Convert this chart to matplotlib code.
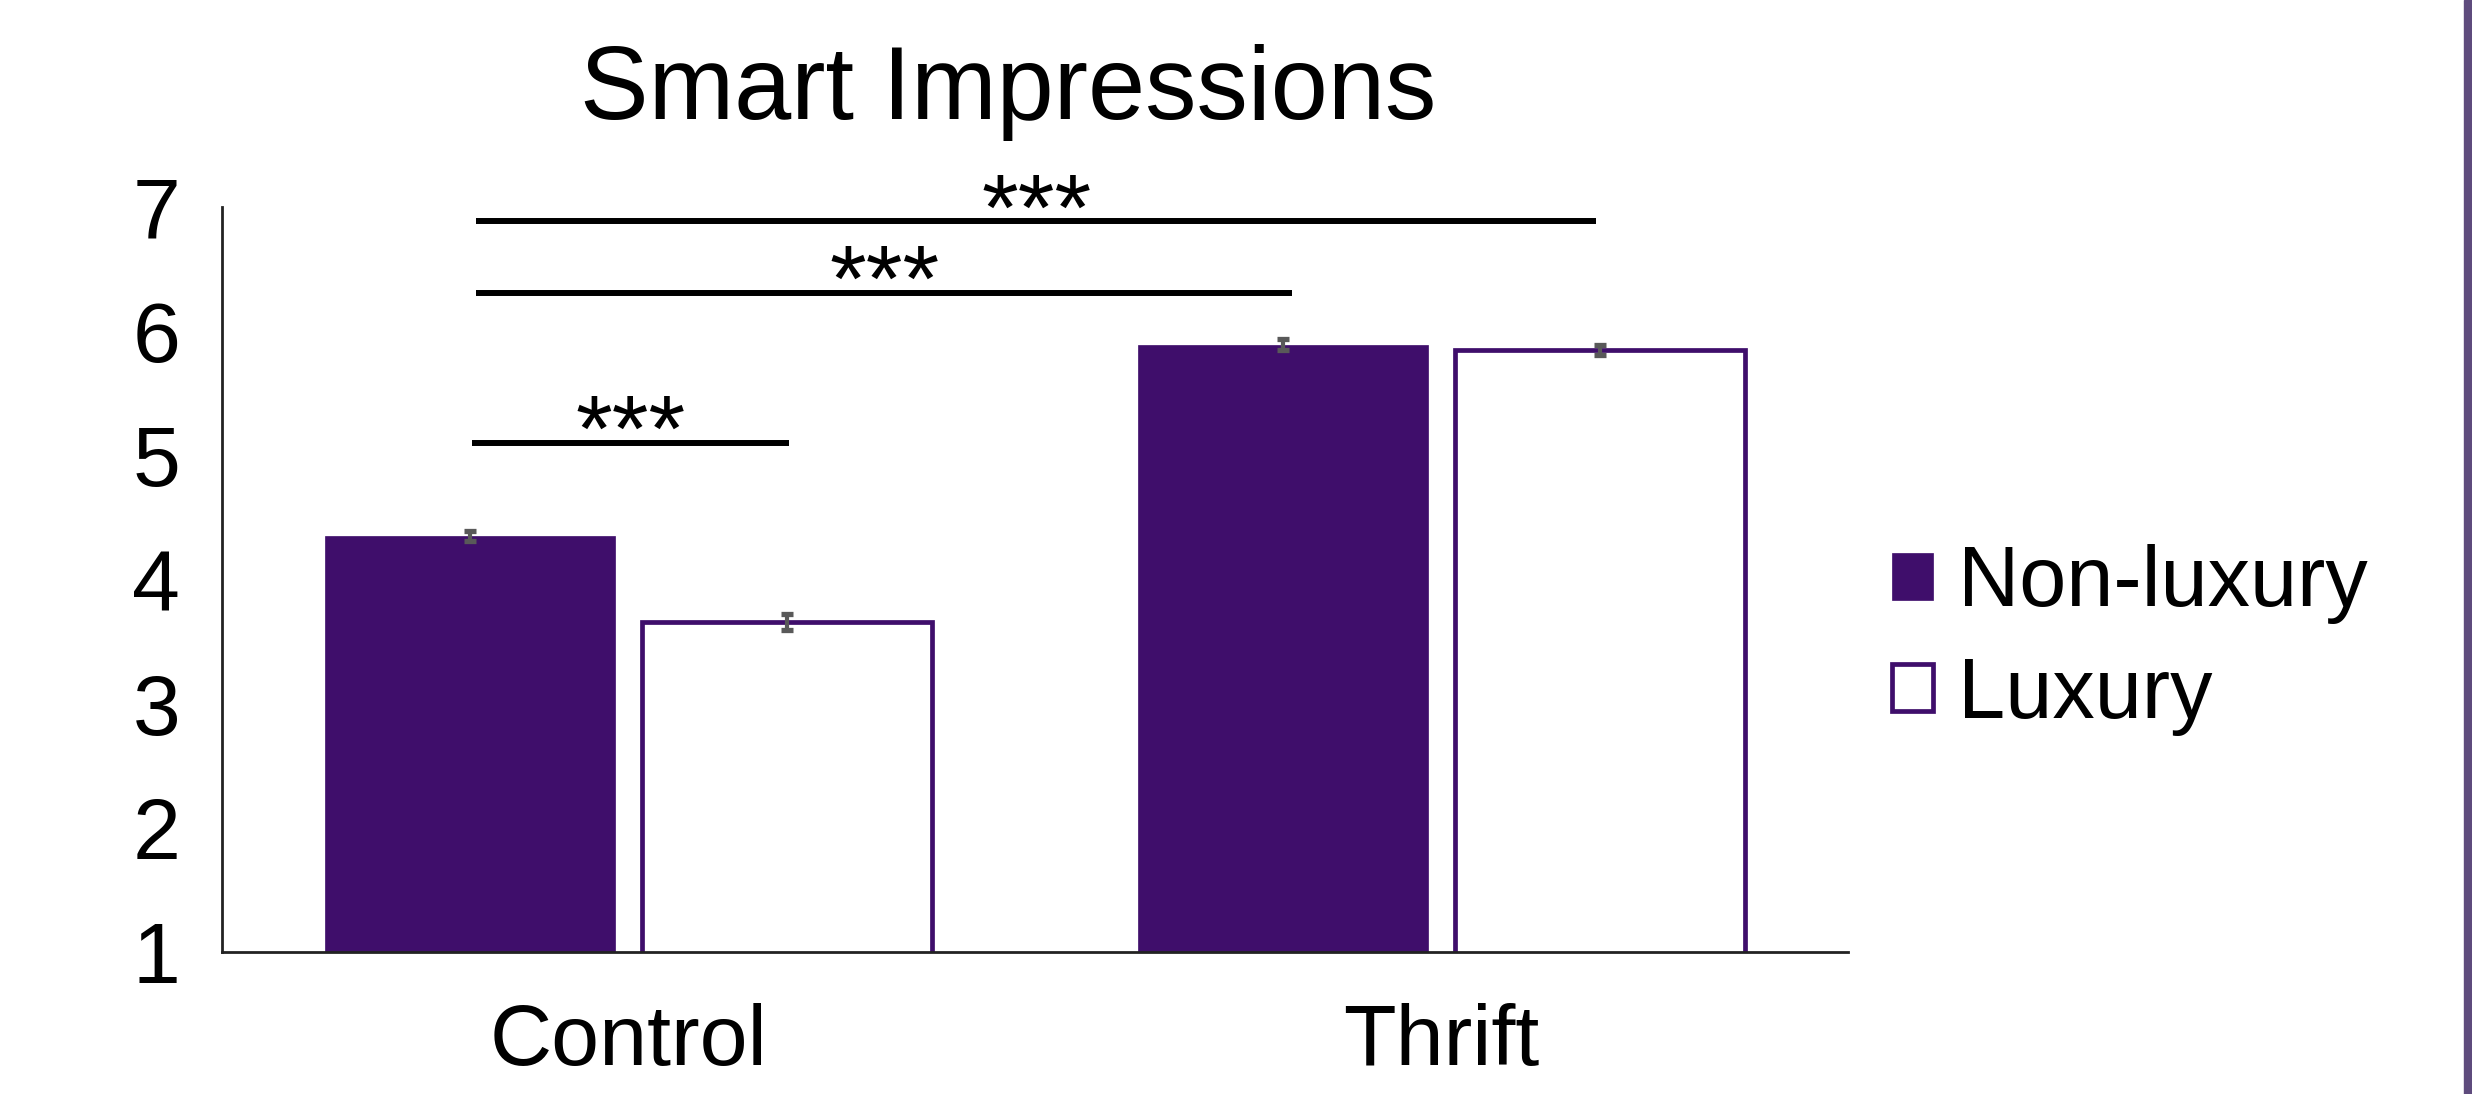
import numpy as np
import matplotlib
matplotlib.use("Agg")
import matplotlib.pyplot as plt
from matplotlib.patches import Rectangle

plt.rcParams["font.family"] = ["Liberation Sans", "DejaVu Sans"]

# data
groups = ["Control", "Thrift"]
series = ["Non-luxury", "Luxury"]
nonlux_means = [4.35, 5.89]
lux_means = [3.66, 5.85]
nonlux_err = [0.04, 0.045]
lux_err = [0.065, 0.04]

# significance brackets: start x, end x, height, label
sig_x1 = [-0.193, -0.187, -0.187]
sig_x2 = [0.198, 0.816, 1.19]
sig_y = [5.10, 6.31, 6.885]
sig_labels = ["***", "***", "***"]

purple = "#3F0E6B"
err_grey = "#595959"

fig = plt.figure(figsize=(24.72, 10.94), dpi=100)
ax = fig.add_axes([0.0898, 0.1298, 0.6578, 0.681])

x = np.arange(len(groups))
w = 0.356
off = 0.195

b1 = ax.bar(x - off, nonlux_means, width=w, color=purple, edgecolor=purple,
            linewidth=0.5, zorder=2)
b2 = ax.bar(x + off, lux_means, width=w, color="white", edgecolor=purple,
            linewidth=3.4, zorder=2)

ax.errorbar(x - off, nonlux_means, yerr=nonlux_err, fmt="none", ecolor=err_grey,
            elinewidth=3, capsize=4.5, capthick=3.8, zorder=3)
ax.errorbar(x + off, lux_means, yerr=lux_err, fmt="none", ecolor=err_grey,
            elinewidth=3, capsize=4.5, capthick=3.8, zorder=3)

for x1, x2, y, lab in zip(sig_x1, sig_x2, sig_y, sig_labels):
    ax.plot([x1, x2], [y, y], color="black", linewidth=4.3,
            solid_capstyle="butt", clip_on=False, zorder=4)
    ax.annotate(lab, xy=((x1 + x2) / 2, y), xytext=(0, -13),
                textcoords="offset points", ha="center", va="baseline",
                fontsize=68, clip_on=False)

ax.set_xlim(-0.5, 1.5)
ax.set_ylim(1, 7)
ax.set_yticks(range(1, 8))
ax.set_xticks(x)
ax.set_xticklabels(groups)

for side in ["top", "right"]:
    ax.spines[side].set_visible(False)
for side in ["left", "bottom"]:
    ax.spines[side].set_linewidth(2)
    ax.spines[side].set_color("#222222")

ax.tick_params(axis="y", length=0, pad=30, labelsize=62)
ax.tick_params(axis="x", length=0, pad=37, labelsize=62)

ax.legend([b1, b2], series, loc="center left",
          bbox_to_anchor=(1892 / 2472, 1 - 640 / 1094),
          bbox_transform=fig.transFigure, frameon=False, fontsize=61,
          handlelength=0.48, handleheight=0.48, handletextpad=0.3,
          labelspacing=0.37, borderpad=0, borderaxespad=0)

fig.text(0.408, 0.891, "Smart Impressions", ha="center", va="baseline", fontsize=74)

# purple strip on the right edge
fig.patches.append(Rectangle((1 - 8 / 2472, 0), 8 / 2472, 1,
                             transform=fig.transFigure, color="#5E4B7D"))

fig.savefig("out.png", dpi=100)
